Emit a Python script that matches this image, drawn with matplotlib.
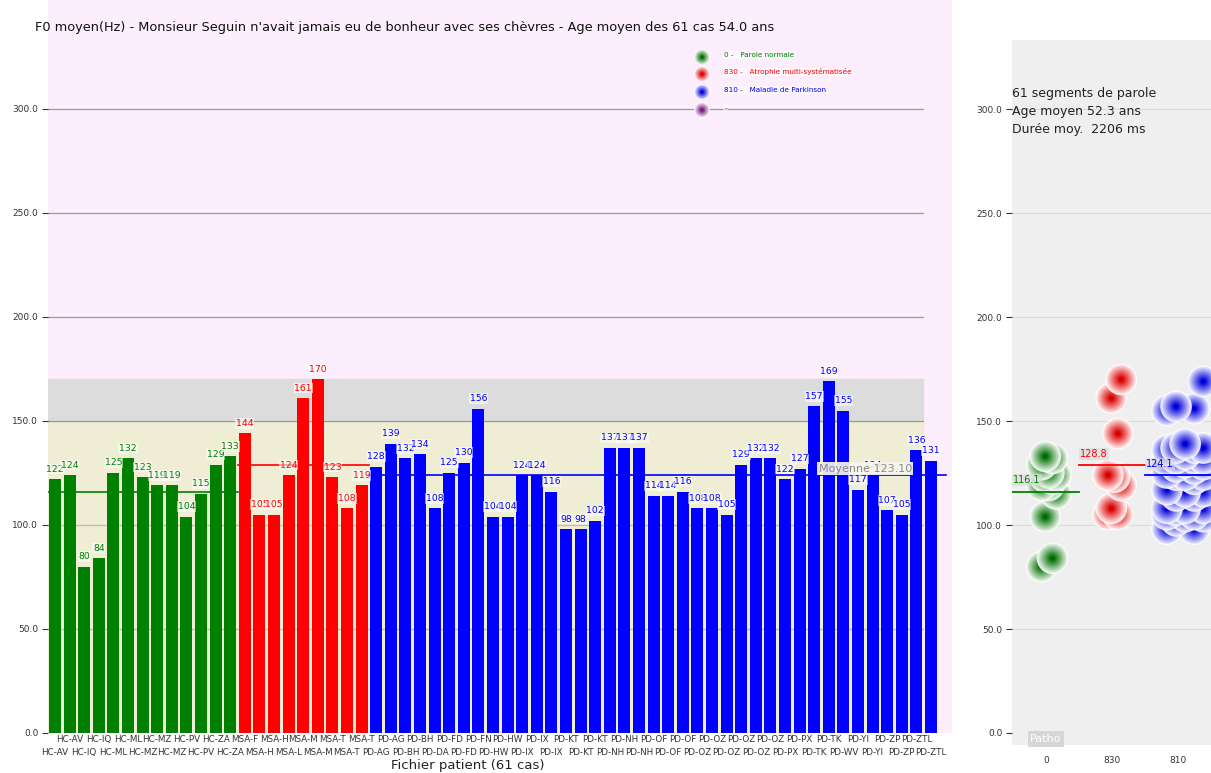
import matplotlib
matplotlib.use("Agg")
import matplotlib.pyplot as plt
import numpy as np
from matplotlib.colors import to_rgb

# ---------------- data ----------------
patients = ["HC-AV", "HC-AV", "HC-IQ", "HC-IQ", "HC-ML", "HC-ML", "HC-MZ", "HC-MZ", "HC-MZ",
            "HC-PV", "HC-PV", "HC-ZA", "HC-ZA",
            "MSA-F", "MSA-H", "MSA-H", "MSA-L", "MSA-M", "MSA-M", "MSA-T", "MSA-T", "MSA-T",
            "PD-AG", "PD-AG", "PD-BH", "PD-BH", "PD-DA", "PD-FD", "PD-FD", "PD-FN", "PD-HW", "PD-HW",
            "PD-IX", "PD-IX", "PD-IX", "PD-KT", "PD-KT", "PD-KT", "PD-NH", "PD-NH", "PD-NH",
            "PD-OF", "PD-OF", "PD-OF", "PD-OZ", "PD-OZ", "PD-OZ", "PD-OZ", "PD-OZ", "PD-OZ",
            "PD-PX", "PD-PX", "PD-TK", "PD-TK", "PD-WV", "PD-YI", "PD-YI", "PD-ZP", "PD-ZP",
            "PD-ZTL", "PD-ZTL"]
hc_values = [122, 124, 80, 84, 125, 132, 123, 119, 119, 104, 115, 129, 133]
msa_values = [144, 105, 105, 124, 161, 170, 123, 108, 119]
pd_values = [128, 139, 132, 134, 108, 125, 130, 156, 104, 104, 124, 124, 116, 98, 98, 102,
             137, 137, 137, 114, 114, 116, 108, 108, 105, 129, 132, 132, 122, 127, 157, 169,
             155, 117, 124, 107, 105, 136, 131]
group_codes = ["0", "830", "810"]
group_names = ["Parole normale", "Atrophie multi-systématisée", "Maladie de Parkinson"]
group_colors = ["#008000", "#FF0000", "#0000FF"]
band_limits = [150, 170]

groups = [hc_values, msa_values, pd_values]
all_values = hc_values + msa_values + pd_values
overall_mean = np.mean(all_values)

W, H = 1211, 773
fig = plt.figure(figsize=(W / 100, H / 100), dpi=100)
fig.patch.set_facecolor("white")
plt.rcParams['font.family'] = ['DejaVu Sans']


def px_ax(x0, y0, x1, y1):
    # pixel box (left, top, right, bottom) -> figure fraction
    return [x0 / W, 1 - y1 / H, (x1 - x0) / W, (y1 - y0) / H]


# ---------------- main panel ----------------
ax = fig.add_axes(px_ax(48, 0, 952, 733))
ax.set_facecolor("#FCEEFC")
n = len(all_values)
ax.set_xlim(-0.48, n - 1 + 1.44)
ax.set_ylim(0, 352.4)
band_frac = 0.968
ax.axhspan(0, band_limits[0], xmin=0, xmax=band_frac, color="#EFEDD3", zorder=0)
ax.axhspan(band_limits[0], band_limits[1], xmin=0, xmax=band_frac, color="#DCDCDC", zorder=0)
for yv in [50, 100, 150, 200, 250, 300]:
    ax.axhline(yv, xmin=0, xmax=band_frac, color="#9A9A9A" if yv >= 150 else "#BBBBBB",
               lw=0.9, zorder=0.5)

start = 0
for vals, col in zip(groups, group_colors):
    xs = np.arange(start, start + len(vals))
    ax.bar(xs, vals, width=0.82, color=col, zorder=2)
    for x, v in zip(xs, vals):
        ax.annotate(f"{v}", (x, v), xytext=(0, 4), textcoords="offset points",
                    ha="center", va="bottom", fontsize=6.7, color=col, zorder=4,
                    bbox=dict(boxstyle="square,pad=0.08", fc="white", ec="none", alpha=0.55))
    m = np.mean(vals)
    right = start + len(vals) - 0.5
    if col == group_colors[-1]:
        right = n - 1 + 0.5 + 0.5
    ax.plot([start - 0.5 if start else -0.48, right], [m, m], color=col, lw=1.2, zorder=3)
    start += len(vals)

ax.text(52.3, overall_mean + 1.5, f"Moyenne {overall_mean:.2f}", fontsize=8, color="#8A8A8A",
        ha="left", va="bottom", zorder=8,
        bbox=dict(boxstyle="square,pad=0.15", fc="#F6F6F0", ec="none", alpha=0.92))

ax.set_yticks([0, 50, 100, 150, 200, 250, 300])
ax.set_yticklabels([f"{v:.1f}" for v in [0, 50, 100, 150, 200, 250, 300]], fontsize=6.5, color="#333333")
ax.tick_params(axis="y", length=4, width=0.8, color="#333333", pad=3)
ax.set_xticks(np.arange(n))
ax.set_xticklabels(patients, fontsize=6.3, color="#333333")
ax.tick_params(axis="x", length=0)
for i, tk in enumerate(ax.xaxis.get_major_ticks()):
    tk.set_pad(1.5 if i % 2 == 1 else 10.5)
for sp in ax.spines.values():
    sp.set_visible(False)


def glow(axis, x, y, color, s, transform=None, zorder=3):
    rgb = np.array(to_rgb(color))
    kw = {} if transform is None else {"transform": transform}
    axis.scatter([x], [y], s=s, color="white", edgecolors="none", zorder=zorder, alpha=0.85, **kw)
    steps = 12
    for k in range(steps):
        t = k / (steps - 1)          # 0 = outer, 1 = centre
        r = 0.93 - 0.78 * t
        size = s * r ** 2
        w = 0.88 * (1 - t) ** 0.9     # whiteness
        c = rgb * (1 - w) + np.ones(3) * w
        c = c * (1 - 0.15 * t)
        axis.scatter([x], [y], s=size, color=np.clip(c, 0, 1), edgecolors="none",
                     zorder=zorder + 0.0001 * (k + 1), **kw)


# legend
leg_y = [0.922, 0.899, 0.8745, 0.850]
leg_cols = group_colors + ["#8B1A8B"]
leg_txt = [f"{c} -   {nme}" for c, nme in zip(group_codes, group_names)] + ["-"]
for yy, c, t in zip(leg_y, leg_cols, leg_txt):
    glow(ax, 0.7235, yy, c, 130, transform=ax.transAxes, zorder=6)
    ax.text(0.748, yy + 0.003, t, transform=ax.transAxes, fontsize=5.2, color=c, va="center",
            ha="left", zorder=7,
            bbox=dict(boxstyle="square,pad=0.1", fc="white", ec="none", alpha=0.5))

fig.text(35 / W, 1 - 27 / H,
         "F0 moyen(Hz) - Monsieur Seguin n'avait jamais eu de bonheur avec ses chèvres - "
         f"Age moyen des {n} cas 54.0 ans", fontsize=9.3, color="#111111", va="center", ha="left")
fig.text(468 / W, 1 - 765 / H, f"Fichier patient ({n} cas)", fontsize=9.5, color="#222222",
         ha="center", va="center")

# ---------------- right panel ----------------
ax2 = fig.add_axes(px_ax(1012, 40, 1290, 745))
ax2.set_facecolor("#EFEFEF")
ax2.set_xlim(-0.515, 3.7)
ax2.set_ylim(-5.77, 333.2)
for yv in [50, 100, 150, 200, 250, 300]:
    ax2.axhline(yv, color="#DCDCDC", lw=0.8, zorder=0.5)
ax2.set_yticks([0, 50, 100, 150, 200, 250, 300])
ax2.set_yticklabels([f"{v:.1f}" for v in [0, 50, 100, 150, 200, 250, 300]], fontsize=6.5, color="#333333")
ax2.tick_params(axis="y", length=4, width=0.8, color="#333333", pad=3)
ax2.set_xticks([0, 1, 2])
ax2.set_xticklabels(group_codes, fontsize=6.5, color="#333333")
ax2.tick_params(axis="x", length=0, pad=8)
for sp in ax2.spines.values():
    sp.set_visible(False)

spreads = [0.22, 0.2, 0.55]
for gi, (vals, col) in enumerate(zip(groups, group_colors)):
    order = np.argsort(vals)
    for r, idx in enumerate(order):
        off = spreads[gi] * ((r * 3) % 5) / 4 - spreads[gi] * 0.3
        glow(ax2, gi + off, vals[idx], col, 520, zorder=3 + 0.01 * r)
    m = np.mean(vals)
    x0 = gi - 0.5 if gi else -0.515
    ax2.plot([x0, gi + 0.5], [m, m], color=col, lw=1.3, zorder=20)
    ax2.text(x0 + 0.02, m + 3, f"{m:.1f}", fontsize=7, color=col, ha="left", va="bottom", zorder=21,
             bbox=dict(boxstyle="square,pad=0.1", fc="#D8D8D8", ec="none", alpha=0.6))

ax2.text(0.0, -3, "Patho", fontsize=8, color="white", ha="center", va="center", zorder=22,
         bbox=dict(boxstyle="square,pad=0.25", fc="#D6D6D6", ec="none"))

fig.text(1012 / W, 1 - 94 / H, f"{n} segments de parole", fontsize=9, color="#222222", va="center")
fig.text(1012 / W, 1 - 112 / H, "Age moyen 52.3 ans", fontsize=9, color="#222222", va="center")
fig.text(1012 / W, 1 - 130 / H, "Durée moy.  2206 ms", fontsize=9, color="#222222", va="center")

fig.savefig("out.png", dpi=100)
